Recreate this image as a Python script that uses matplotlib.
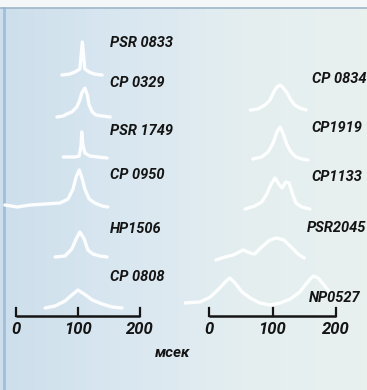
import numpy as np
import matplotlib
matplotlib.use("Agg")
import matplotlib.pyplot as plt
from matplotlib.colors import LinearSegmentedColormap

# ---------------- data ----------------
# left column: time (ms) and relative amplitude
psr0833_t = [74, 87, 95, 103, 107, 111, 118, 126, 139]
psr0833_a = [0, 1, 3, 6, 33, 6, 3, 1, 0]

cp0329_t = [66, 76, 82, 90, 98, 103, 106, 111, 115, 118, 123, 129, 139, 152]
cp0329_a = [0, 1, 3, 5, 10, 17, 24, 29, 22, 12, 5, 2, 1, 0]

psr1749_t = [76, 95, 102, 105, 106, 108, 111, 119, 132, 147]
psr1749_a = [0, 0, 1, 12, 25, 12, 4, 1, 0, -1]

cp0950_t = [-18, 2, 23, 47, 71, 84, 92, 97, 102, 106, 111, 118, 127, 139, 148]
cp0950_a = [2, 0, 2, 3, 4, 8, 18, 30, 37, 30, 18, 8, 4, 1, 0]

hp1506_t = [63, 79, 90, 97, 103, 110, 116, 124, 135, 147]
hp1506_a = [0, 1, 8, 18, 25, 18, 7, 3, 1, 0]

cp0808_t = [47, 63, 79, 90, 100, 110, 123, 139, 155, 171]
cp0808_a = [0, 2, 7, 13, 18, 14, 8, 4, 1, 0]

# right column
cp0834_t = [65, 77, 88, 96, 102, 107, 112, 117, 123, 129, 135, 143, 153]
cp0834_a = [0, 1, 5, 10, 18, 23, 25, 22, 17, 10, 5, 2, 0]

cp1919_t = [69, 83, 93, 101, 107, 112, 117, 123, 129, 137, 146, 156]
cp1919_a = [1, 3, 8, 17, 28, 33, 26, 15, 8, 3, 1, 0]

cp1133_t = [57, 72, 83, 91, 98, 104, 110, 115, 121, 126, 131, 137, 146, 159]
cp1133_a = [0, 3, 7, 15, 25, 31, 25, 21, 27, 26, 16, 6, 2, 0]

psr2045_t = [11, 25, 38, 54, 65, 72, 83, 96, 106, 118, 131, 140, 150]
psr2045_a = [2, 5, 7, 12, 9, 8, 15, 22, 24, 22, 14, 8, 4]

np0527_t = [-38, -14, 2, 17, 27, 33, 41, 52, 65, 80, 96, 112, 128, 143, 154, 164, 172, 181, 191]
np0527_a = [2, 3, 8, 17, 24, 27, 22, 13, 7, 2, 0, 2, 6, 13, 22, 29, 27, 20, 12]

left_names = ["PSR 0833", "CP 0329", "PSR 1749", "CP 0950", "HP1506", "CP 0808"]
right_names = ["CP 0834", "CP1919", "CP1133", "PSR2045", "NP0527"]
scale_ticks = [0, 100, 200]
scale_tick_labels = ["0", "100", "200"]
unit_label = "мсек"

left_profiles = [(psr0833_t, psr0833_a), (cp0329_t, cp0329_a), (psr1749_t, psr1749_a),
                 (cp0950_t, cp0950_a), (hp1506_t, hp1506_a), (cp0808_t, cp0808_a)]
right_profiles = [(cp0834_t, cp0834_a), (cp1919_t, cp1919_a), (cp1133_t, cp1133_a),
                  (psr2045_t, psr2045_a), (np0527_t, np0527_a)]

# ---------------- layout ----------------
W, H = 367, 390
fig = plt.figure(figsize=(W / 100, H / 100), dpi=100)
fig.patch.set_facecolor("#f4f7f8")

# background (photo-like pale blue)
bg = fig.add_axes([0, 0, 1, 1])
grad = np.linspace(0, 1, 64)[None, :]
cmap = LinearSegmentedColormap.from_list("bg", ["#cddfec", "#d9e7f0", "#e4eef0", "#e9f1ef"])
bg.imshow(grad, aspect="auto", cmap=cmap, extent=[0, W, H, 8])
bg.plot([0, W], [8, 8], color="#9fb6c8", lw=1.2)
bg.plot([4, 4], [8, H], color="#8fb2d2", lw=2.0, alpha=0.7)
bg.set_xlim(0, W)
bg.set_ylim(H, 0)
bg.axis("off")

FONT = ["Roboto", "DejaVu Sans"]
txt_kw = dict(fontweight="bold", fontstyle="italic", color="#141414", family=FONT)


def make_panel(px0, px1, zero_px, px_per_ms):
    ax = fig.add_axes([px0 / W, 0, (px1 - px0) / W, 1])
    ax.set_xlim((px0 - zero_px) / px_per_ms, (px1 - zero_px) / px_per_ms)
    ax.set_ylim(H, 0)
    ax.axis("off")
    return ax


axL = make_panel(0, 183.5, 16, 0.62)
axR = make_panel(183.5, 367, 209, 0.635)

left_base = [75, 117, 157, 207, 257, 308]
left_label_y = [43, 83, 131, 175, 229, 277]
right_base = [110, 160, 209, 262, 305]
right_label_y = [79, 128, 177, 228, 298]

for (t, a), b in zip(left_profiles, left_base):
    axL.plot(t, b - np.asarray(a), color="white", lw=2.4, alpha=0.95,
             solid_capstyle="round", solid_joinstyle="round")
for (t, a), b in zip(right_profiles, right_base):
    axR.plot(t, b - np.asarray(a), color="white", lw=2.4, alpha=0.95,
             solid_capstyle="round", solid_joinstyle="round")

for name, y in zip(left_names, left_label_y):
    fig.text(110 / W, 1 - y / H, name, ha="left", va="center", fontsize=10.5, **txt_kw)
right_x = [366, 362, 362, 366, 360]
for name, y, x in zip(right_names, right_label_y, right_x):
    fig.text(x / W, 1 - y / H, name, ha="right", va="center", fontsize=10.5, **txt_kw)

# scale bars
for ax in (axL, axR):
    ax.plot([scale_ticks[0], scale_ticks[-1]], [316, 316], color="#151515", lw=1.8,
            solid_capstyle="butt")
    for tk, lab in zip(scale_ticks, scale_tick_labels):
        ax.plot([tk, tk], [316, 308], color="#151515", lw=1.6)
        ax.text(tk, 330, lab, ha="center", va="center", fontsize=12, **txt_kw)

fig.text(173 / W, 1 - 353 / H, unit_label, ha="center", va="center", fontsize=11, **txt_kw)

fig.savefig("out.png", dpi=100, facecolor=fig.get_facecolor())
